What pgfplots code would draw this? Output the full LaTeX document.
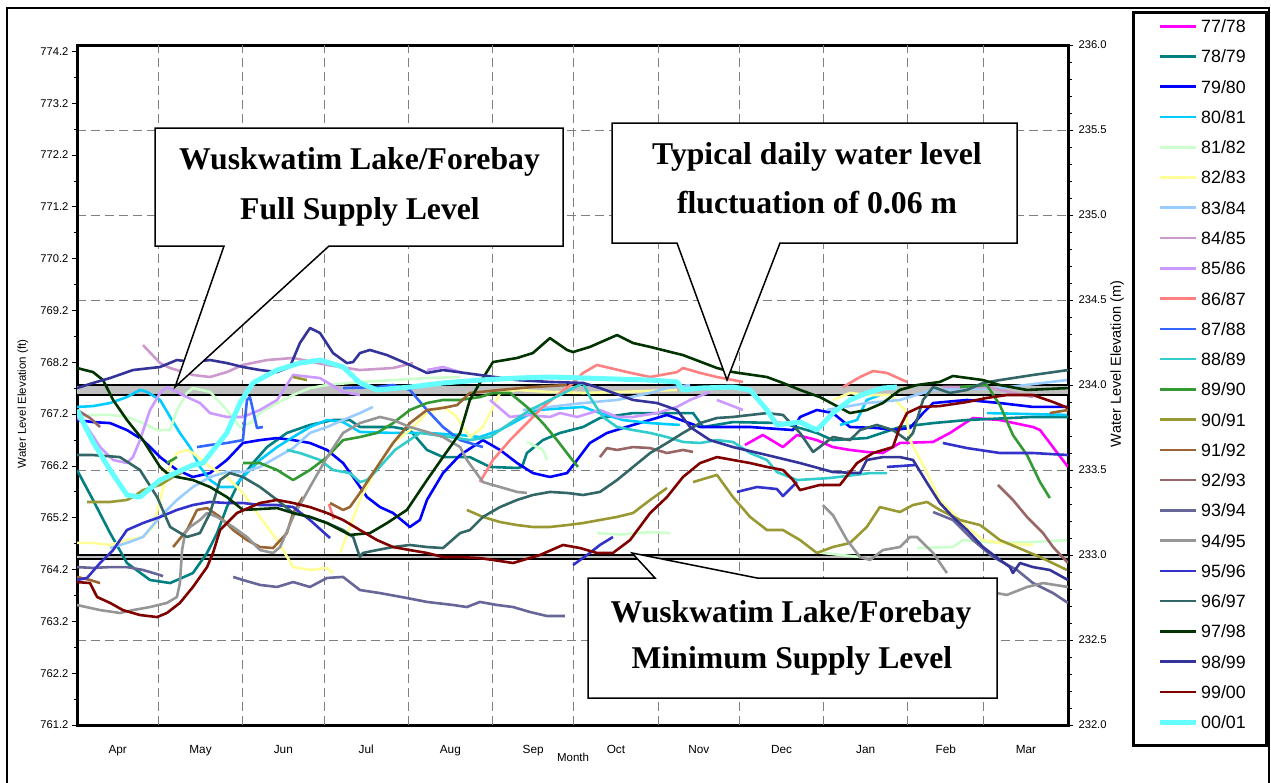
\documentclass[border=0pt]{standalone}
\usepackage{fontspec}
\setmainfont{Liberation Sans}
\newfontfamily\calloutfont{Liberation Serif}
\usepackage{pgfplots}
\pgfplotsset{compat=1.18}

\definecolor{c7778}{HTML}{FF00FF}
\definecolor{c7879}{HTML}{008080}
\definecolor{c7980}{HTML}{0000FF}
\definecolor{c8081}{HTML}{00CCFF}
\definecolor{c8182}{HTML}{CCFFCC}
\definecolor{c8283}{HTML}{FFFF99}
\definecolor{c8384}{HTML}{99CCFF}
\definecolor{c8485}{HTML}{CC99CC}
\definecolor{c8586}{HTML}{CC99FF}
\definecolor{c8687}{HTML}{FF8080}
\definecolor{c8788}{HTML}{3366FF}
\definecolor{c8889}{HTML}{33CCCC}
\definecolor{c8990}{HTML}{339933}
\definecolor{c9091}{HTML}{999933}
\definecolor{c9192}{HTML}{996633}
\definecolor{c9293}{HTML}{996666}
\definecolor{c9394}{HTML}{666699}
\definecolor{c9495}{HTML}{969696}
\definecolor{c9596}{HTML}{3333CC}
\definecolor{c9697}{HTML}{336666}
\definecolor{c9798}{HTML}{003300}
\definecolor{c9899}{HTML}{333399}
\definecolor{c9900}{HTML}{800000}
\definecolor{c0001}{HTML}{66FFFF}
\definecolor{bandgray}{HTML}{C0C0C0}
\definecolor{gridgray}{HTML}{808080}

\pgfplotsset{
  yr/.style={line width=2.6pt, line join=round, no marks},
}

\begin{document}
\begin{tikzpicture}
\path[use as bounding box] (0,0) rectangle (1271pt,-782pt);

% left axis in feet
\begin{axis}[
  at={(77pt,-725pt)}, anchor=south west,
  scale only axis, width=991pt, height=680pt,
  xmin=0, xmax=365, ymin=761.2, ymax=774.3234,
  hide x axis,
  axis y line*=left,
  axis line style={line width=3pt},
  ytick={761.2,762.2,763.2,764.2,765.2,766.2,767.2,768.2,769.2,770.2,771.2,772.2,773.2,774.2},
  minor y tick num=1,
  tick align=outside,
  major tick length=5pt, minor tick length=3.5pt,
  tick style={black, line width=0.8pt},
  yticklabel style={font=\fontsize{11.2}{11.2}\selectfont,
    /pgf/number format/fixed, /pgf/number format/fixed zerofill,
    /pgf/number format/precision=1, /pgf/number format/assume math mode=true},
]
\end{axis}

% main axis in metres
\begin{axis}[
  at={(77pt,-725pt)}, anchor=south west,
  scale only axis, width=991pt, height=680pt,
  xmin=0, xmax=365, ymin=232, ymax=236,
  axis line style={line width=3pt},
  xtick={15,45.5,76,106.5,137.5,168,198.5,229,259.5,290.5,320,349.5},
  xticklabels={Apr,May,Jun,Jul,Aug,Sep,Oct,Nov,Dec,Jan,Feb,Mar},
  xtick style={draw=none},
  extra x ticks={30,61,91,122,153,183,214,244,275,306,334},
  extra x tick labels={},
  extra x tick style={grid=major},
  xticklabel style={font=\fontsize{11.8}{11.8}\selectfont, anchor=base, yshift=-23pt},
  ytick={232,232.5,...,236},
  minor y tick num=4,
  ytick pos=right,
  yticklabel pos=right,
  ymajorgrids=true,
  tick align=outside,
  major tick length=5pt, minor tick length=3.5pt,
  ytick style={black, line width=0.8pt},
  major grid style={dash pattern=on 9pt off 5pt, line width=0.9pt, gridgray},
  yticklabel style={font=\fontsize{11.2}{11.2}\selectfont, xshift=2pt,
    /pgf/number format/fixed, /pgf/number format/fixed zerofill,
    /pgf/number format/precision=1, /pgf/number format/assume math mode=true},
  unbounded coords=jump,
  legend style={at={(1.0898,1.0374)}, anchor=north west, draw=none, fill=none,
    inner sep=0pt, row sep=17.36pt, column sep=3pt,
    font=\fontsize{17.8}{17.8}\selectfont,
    nodes={inner sep=0pt, text height=12.9pt, text depth=0pt}},
  legend cell align=left,
  legend image code/.code={\draw[#1, line cap=butt] (0pt,0pt) -- (36pt,0pt);},
]

% full supply level band and minimum supply level
\addplot[draw=none, fill=bandgray, forget plot] coordinates {(0,233.94) (365,233.94) (365,234.0) (0,234.0)};
\addplot[black, line width=2pt, forget plot] coordinates {(0,234.0) (365,234.0)};
\addplot[black, line width=2pt, forget plot] coordinates {(0,233.94) (365,233.94)};
\addplot[draw=none, fill=bandgray, forget plot] coordinates {(0,232.975) (365,232.975) (365,233.0) (0,233.0)};
\addplot[black, line width=1.8pt, forget plot] coordinates {(0,233.0) (365,233.0)};
\addplot[black, line width=1.8pt, forget plot] coordinates {(0,232.975) (365,232.975)};

% 77/78
\addplot[yr, c7778] coordinates {
(246.0,233.647) (252.6,233.706) (260.0,233.635) (265.2,233.706) (272.5,233.676) (278.4,233.635)
(284.7,233.618) (290.9,233.606) (296.8,233.600) (303.1,233.659) (315.3,233.665) (321.5,233.718)
(330.0,233.806) (339.9,233.794) (352.1,233.753) (354.7,233.735) (358.3,233.659) (365,233.518)};
\addlegendentry{77/78}

% 78/79
\addplot[yr, c7879] coordinates {
(0,233.5) (5.9,233.324) (12.2,233.129) (18.4,232.953) (26.9,232.853) (34.3,232.835) (42.7,232.894)
(47.9,233.012) (51.6,233.129) (55.2,233.282) (60.0,233.441) (64.8,233.541) (70.0,233.635)
(77.3,233.718) (85.8,233.765) (94.3,233.794) (100.5,233.794) (104.2,233.753) (116.4,233.753)
(122.6,233.735) (128.9,233.618) (134.8,233.576) (144.7,233.576) (152.1,233.518) (162.1,233.512)
(163.9,233.518) (165.7,233.600) (171.6,233.676) (177.9,233.718) (186.4,233.753) (192.6,233.806)
(204.8,233.835) (217.3,233.835) (226.9,233.835) (230.6,233.753) (241.6,233.782) (260.0,233.776)
(272.5,233.718) (278.4,233.676) (290.9,233.688) (303.1,233.753) (315.3,233.776) (327.8,233.794)
(352.1,233.812) (365,233.812)};
\addlegendentry{78/79}

% 79/80
\addplot[yr, c7980] coordinates {
(0,233.794) (5.9,233.782) (12.2,233.776) (18.4,233.735) (24.3,233.676) (30.6,233.576) (36.8,233.5)
(42.7,233.459) (49.0,233.482) (55.2,233.559) (61.1,233.659) (67.4,233.676) (73.7,233.688)
(79.6,233.676) (85.8,233.659) (92.1,233.618) (98.0,233.541) (101.7,233.459) (106.8,233.341)
(111.6,233.282) (116.4,233.247) (122.6,233.165) (126.3,233.206) (128.9,233.324) (134.8,233.482)
(141.1,233.588) (149.5,233.676) (155.8,233.618) (162.1,233.541) (167.9,233.482) (174.2,233.459)
(180.5,233.482) (184.2,233.559) (188.9,233.659) (195.2,233.718) (204.8,233.765) (217.3,233.824)
(229.5,233.753) (247.9,233.753) (263.7,233.735) (266.3,233.812) (272.5,233.853) (278.4,233.835)
(284.7,233.753) (294.6,233.747) (300.5,233.735) (306.8,233.747) (311.6,233.835) (315.3,233.894)
(327.8,233.912) (339.9,233.894) (352.1,233.871) (365,233.871)};
\addlegendentry{79/80}

% 80/81
\addplot[yr, c8081] coordinates {
(0,233.871) (5.9,233.876) (12.2,233.894) (18.4,233.929) (23.2,233.971) (25.8,233.959) (30.6,233.912)
(34.3,233.812) (37.9,233.718) (41.6,233.635) (45.3,233.518) (49.0,233.441) (52.7,233.400)
(57.5,233.400) (62.6,233.482) (67.4,233.559) (73.7,233.635) (79.6,233.694) (85.8,233.753)
(92.1,233.794) (98.0,233.782) (104.2,233.724) (116.4,233.718) (128.9,233.718) (141.1,233.706)
(148.4,233.694) (155.8,233.735) (169.4,233.853) (186.4,233.871) (192.6,233.835) (201.1,233.794)
(211.1,233.776) (222.0,233.765) (230,nan)
(281.0,233.765) (287.3,233.794) (290.9,233.912) (295.7,233.941) (300,nan)
(335.1,233.835) (364.6,233.824)};
\addlegendentry{80/81}

% 81/82
\addplot[yr, c8182] coordinates {
(0,233.812) (5.9,233.824) (12.2,233.824) (18.4,233.812) (24.3,233.776) (29.5,233.735) (34.3,233.735)
(36.8,233.853) (40.5,233.953) (42.7,233.982) (49.0,233.959) (55.2,233.853) (60.0,233.753)
(63.7,233.776) (67.4,233.835) (73.7,233.894) (79.6,233.941) (85.8,233.982) (92.1,234.000)
(104.2,234.018) (116.4,234.029) (128.9,234.041) (141.1,234.047) (150,nan)
(165.7,233.665) (171.6,233.618) (173.1,233.559) (180,nan)
(191.5,233.129) (200,233.12) (211.1,233.135) (218.4,233.129) (250,nan)
(274.7,233.012) (288.4,232.988) (300,nan)
(309.4,233.041) (322.6,233.047) (326.3,233.088) (339.9,233.071) (352.1,233.076) (364.6,233.088)};
\addlegendentry{81/82}

% 82/83
\addplot[yr, c8283] coordinates {
(0,233.071) (5.9,233.071) (12.2,233.059) (18.4,233.088) (24.3,233.106) (28.0,233.165) (30.6,233.324)
(33.1,233.482) (36.8,233.600) (40.5,233.618) (42.7,233.600) (49.0,233.518) (55.2,233.459)
(61.1,233.365) (67.4,233.224) (73.7,233.088) (79.6,232.929) (85.8,232.912) (92.1,232.924)
(94.3,232.894) (95.5,nan)
(96.9,233.012) (100.5,233.165) (104.2,233.324) (110.5,233.518) (116.4,233.659) (122.6,233.735)
(128.9,233.835) (134.8,233.871) (139.2,233.824) (144.7,233.694) (149.5,233.753) (153.2,233.871)
(155.8,233.953) (162.1,233.971) (174.2,233.959) (186.4,233.953) (200.0,233.959) (221.0,233.971)
(250,nan)
(278.4,233.912) (284.7,233.953) (290.9,233.941) (299.4,233.941) (305.0,233.853) (306.8,233.676)
(313.1,233.482) (317.8,233.324) (327.8,233.165) (333.7,233.088) (339.9,233.071) (352.1,233.059)};
\addlegendentry{82/83}

% 83/84
\addplot[yr, c8384] coordinates {
(12.2,233.041) (18.4,233.071) (24.3,233.106) (30.6,233.224) (36.8,233.324) (42.7,233.400)
(49.0,233.459) (55.2,233.488) (61.1,233.488) (67.4,233.518) (73.7,233.576) (79.6,233.629)
(85.8,233.718) (92.1,233.753) (98.0,233.794) (104.2,233.835) (109.0,233.871) (130,nan)
(164.2,233.853) (186.4,233.894) (198.9,233.912) (211.1,233.953) (217.3,233.982) (225.8,234.000)
(250,nan)
(276.2,233.853) (290.9,233.894) (303.1,233.912) (315.3,233.971) (339.9,233.982) (364.6,234.029)};
\addlegendentry{83/84}

% 84/85
\addplot[yr, c8485] coordinates {
(24.3,234.235) (30.6,234.129) (34.3,234.100) (42.7,234.059) (49.0,234.047) (55.2,234.076)
(61.1,234.118) (70.0,234.147) (79.6,234.159) (92.1,234.118) (104.2,234.088) (116.4,234.100)
(123.8,234.129) (200,nan)
(318.9,233.988) (335.1,233.988) (352.1,233.929)};
\addlegendentry{84/85}

% 85/86
\addplot[yr, c8586] coordinates {
(0,233.812) (3.7,233.753) (8.5,233.635) (13.3,233.559) (18.4,233.541) (20.6,233.576) (23.2,233.676)
(26.9,233.853) (30.6,233.953) (33.1,233.988) (36.8,233.959) (40.5,233.929) (45.3,233.894)
(49.0,233.835) (55.2,233.812) (61.1,233.812) (67.4,233.853) (73.7,233.912) (79.6,234.059)
(89.5,234.041) (98.0,233.959) (104.2,233.941) (115,nan)
(128.9,234.088) (134.8,234.106) (141.1,234.076) (146,nan)
(152.1,233.912) (159.5,233.812) (165.7,233.824) (174.2,233.812) (177.9,233.835) (184.2,233.812)
(188.9,233.835) (192.6,233.853) (198.9,233.812) (204.8,233.812) (213.6,233.835) (221.0,233.871)
(225.8,233.912) (233.1,233.959) (234.4,nan)
(235.7,233.912) (245.3,233.853)};
\addlegendentry{85/86}

% 86/87
\addplot[yr, c8687] coordinates {
(92.8,233.30) (94.6,233.21) (120,nan)
(148.4,233.429) (153.2,233.559) (159.5,233.676) (165.7,233.776) (171.6,233.871) (177.9,233.953)
(182.7,234.012) (186.4,234.071) (191.5,234.118) (196.3,234.100) (202.6,234.076) (211.1,234.047)
(221.0,234.076) (223.2,234.100) (229.5,234.071) (235.7,234.047) (245.3,234.018) (260,nan)
(282.1,233.988) (288.4,234.047) (293.2,234.082) (298.3,234.071) (305.7,234.018)};
\addlegendentry{86/87}

% 87/88
\addplot[yr, c8788] coordinates {
(44.2,233.635) (49.0,233.647) (55.2,233.659) (61.1,233.676) (62.6,233.912) (63.7,233.929)
(64.8,233.853) (66.3,233.747) (68.5,233.753) (80,nan)
(98.0,233.982) (110.5,233.988) (116.4,234.000) (122.6,233.971) (128.9,233.853) (134.8,233.753)
(141.1,233.676) (149.5,233.635)};
\addlegendentry{87/88}

% 88/89
\addplot[yr, c8889] coordinates {
(77.3,233.618) (82.1,233.600) (89.5,233.559) (94.3,233.500) (100.5,233.482) (104.2,233.429)
(106.8,233.441) (110.5,233.500) (117.1,233.618) (126.3,233.718) (137.4,233.694) (144.7,233.676)
(152.1,233.694) (155.8,233.735) (166.8,233.853) (177.9,233.941) (186.4,234.012) (188.9,233.929)
(193.7,233.812) (198.9,233.753) (204.8,233.735) (211.1,233.718) (217.3,233.694) (223.2,233.665)
(229.5,233.659) (235.7,233.676) (241.6,233.665) (247.9,233.600) (254.1,233.559) (257.8,233.488)
(265.2,233.441) (277.4,233.453) (292.1,233.482) (298.3,233.482)};
\addlegendentry{88/89}

% 89/90
\addplot[yr, c8990] coordinates {
(33.1,233.541) (36.8,233.576) (50,nan)
(61.1,233.541) (67.4,233.541) (73.7,233.5) (79.6,233.441) (85.8,233.5) (92.1,233.576) (98.0,233.676)
(104.2,233.694) (110.5,233.718) (116.4,233.776) (122.6,233.853) (128.9,233.894) (134.8,233.912)
(141.1,233.912) (148.4,233.929) (153.2,233.953) (159.5,233.953) (165.7,233.871) (171.6,233.776)
(176.8,233.676) (181.6,233.576) (184.5,233.518) (250,nan)
(325.2,233.988) (335.1,234.000) (339.9,233.882) (344.7,233.706) (349.9,233.588) (354.7,233.429)
(358.3,233.335)};
\addlegendentry{89/90}

% 90/91
\addplot[yr, c9091] coordinates {
(3.7,233.312) (12.2,233.312) (18.4,233.324) (20.6,233.341) (24.3,233.382) (30.6,233.412)
(35.4,233.459) (39.0,233.488) (60,nan)
(79.6,234.047) (84.7,234.029) (110,nan)
(143.6,233.265) (149.5,233.224) (155.8,233.194) (162.1,233.176) (167.9,233.165) (174.2,233.165)
(180.5,233.176) (186.4,233.188) (192.6,233.206) (198.9,233.224) (204.8,233.247) (211.1,233.324)
(217.3,233.394) (222,nan)
(226.9,233.429) (235.7,233.471) (241.6,233.341) (247.9,233.224) (254.1,233.147) (260.0,233.147)
(266.3,233.088) (272.5,233.012) (278.4,233.047) (284.7,233.071) (290.9,233.165) (295.7,233.282)
(303.1,233.253) (307.9,233.294) (313.1,233.312) (317.8,233.265) (325.2,233.206) (332.6,233.176)
(335.1,233.147) (339.9,233.088) (354.7,232.988) (364.6,232.912)};
\addlegendentry{90/91}

% 91/92
\addplot[yr, c9192] coordinates {
(0,232.871) (4.8,232.853) (8.5,232.835) (20,nan)
(35.4,233.047) (40.5,233.147) (44.2,233.265) (47.9,233.276) (52.7,233.224) (57.5,233.147)
(62.6,233.088) (67.4,233.047) (72.2,233.041) (77.3,233.129) (79.6,233.247) (83.2,233.341) (88,nan)
(93.2,233.306) (98.0,233.265) (100.5,233.282) (104.2,233.365) (110.5,233.518) (116.4,233.659)
(122.6,233.776) (128.9,233.853) (134.8,233.865) (140.0,233.882) (144.7,233.953) (155.8,233.971)
(167.9,233.988) (180.5,234.000) (250,nan)
(358.3,233.835) (365,233.853)};
\addlegendentry{91/92}

% 92/93
\addplot[yr, c9293] coordinates {
(0,233.853) (4.8,233.806) (8.5,233.753) (100,nan)
(192.6,233.576) (195.2,233.629) (198.9,233.618) (204.8,233.635) (211.1,233.629) (217.3,233.600)
(223.2,233.618) (226.9,233.606) (300,nan)
(339.2,233.412) (344.7,233.324) (349.9,233.224) (355.8,233.129) (359.5,233.047) (365,232.953)};
\addlegendentry{92/93}

% 93/94
\addplot[yr, c9394] coordinates {
(0,232.929) (5.9,232.924) (12.2,232.929) (18.4,232.929) (24.3,232.912) (30.6,232.882) (31.7,232.876)
(45,nan)
(57.5,232.871) (61.1,232.853) (67.4,232.824) (73.7,232.812) (79.6,232.841) (85.8,232.812)
(92.1,232.865) (98.0,232.871) (104.2,232.794) (111.6,232.776) (121.5,232.747) (128.9,232.724)
(138.5,232.706) (143.6,232.694) (148.4,232.724) (154.7,232.706) (160.6,232.694) (166.8,232.665)
(173.1,232.641) (179.7,232.641) (250,nan)
(315.3,233.253) (322.6,233.206) (330.0,233.088) (337.4,232.988) (346.2,232.912) (352.1,232.835)
(359.5,232.776) (365,232.718)};
\addlegendentry{93/94}

% 94/95
\addplot[yr, c9495] coordinates {
(0,232.706) (8.5,232.676) (15.8,232.659) (20.6,232.676) (26.9,232.694) (33.1,232.718) (36.8,232.753)
(37.9,232.835) (38.7,233.029) (39.8,233.129) (41.6,233.165) (45.3,233.206) (47.9,233.247)
(51.6,233.224) (57.5,233.165) (62.6,233.106) (67.4,233.029) (72.2,233.012) (74.8,233.047)
(79.6,233.224) (85.8,233.400) (92.1,233.576) (98.0,233.718) (104.2,233.776) (111.6,233.812)
(116.4,233.794) (122.6,233.753) (128.9,233.724) (134.8,233.694) (141.1,233.635) (143.6,233.559)
(149.5,233.429) (155.8,233.400) (162.1,233.371) (165.7,233.365) (220,nan)
(274.7,233.294) (278.4,233.235) (283.6,233.088) (288.4,232.988) (292.1,232.971) (296.8,233.029)
(303.1,233.047) (306.8,233.106) (309.4,233.106) (315.3,233.012) (320.4,232.894) (330,nan)
(338.8,232.776) (342.5,232.765) (349.9,232.812) (355.8,232.835) (365,232.812)};
\addlegendentry{94/95}

% 95/96
\addplot[yr, c9596] coordinates {
(0,232.853) (3.7,232.865) (8.5,232.953) (13.3,233.029) (18.4,233.147) (24.3,233.188) (30.6,233.224)
(36.8,233.265) (42.7,233.294) (49.0,233.312) (55.2,233.306) (61.1,233.306) (67.4,233.294)
(73.7,233.294) (79.6,233.282) (85.8,233.206) (93.2,233.100) (140,nan)
(182.7,232.941) (188.9,233.012) (192.6,233.059) (197.4,233.106) (220,nan)
(243.1,233.371) (250.4,233.400) (257.8,233.388) (260.0,233.347) (265.2,233.429) (280,nan)
(298.3,233.518) (308.6,233.529) (313,nan)
(318.9,233.659) (327.8,233.629) (339.9,233.600) (352.1,233.600) (365,233.588)};
\addlegendentry{95/96}

% 96/97
\addplot[yr, c9697] coordinates {
(0,233.588) (5.9,233.588) (15.8,233.576) (23.2,233.5) (29.5,233.341) (34.3,233.165) (40.5,233.106)
(45.3,233.129) (49.0,233.247) (52.7,233.441) (56.3,233.482) (61.1,233.459) (67.4,233.400)
(73.7,233.324) (79.6,233.247) (85.8,233.224) (92.1,233.188) (98.0,233.147) (101.7,233.106)
(104.2,232.988) (105.3,233.012) (110.5,233.029) (116.4,233.047) (122.6,233.059) (128.9,233.047)
(134.8,233.041) (141.1,233.129) (144.7,233.147) (149.5,233.224) (155.8,233.282) (162.1,233.324)
(167.9,233.353) (174.2,233.371) (180.5,233.365) (186.4,233.353) (192.6,233.371) (198.9,233.441)
(204.8,233.518) (211.1,233.600) (217.3,233.659) (223.2,233.718) (229.5,233.776) (235.7,233.806)
(241.6,233.812) (254.1,233.835) (260.0,233.824) (266.3,233.718) (271.1,233.606) (278.4,233.694)
(284.7,233.676) (288.4,233.735) (294.6,233.765) (300.5,233.735) (305.7,233.676) (307.9,233.718)
(311.6,233.912) (315.3,233.988) (321.5,233.953) (327.8,233.971) (333.7,234.012) (339.9,234.029)
(352.1,234.059) (365,234.088)};
\addlegendentry{96/97}

% 97/98
\addplot[yr, c9798] coordinates {
(0,234.100) (5.9,234.076) (9.6,234.029) (13.3,233.912) (18.4,233.794) (24.3,233.676) (30.6,233.518)
(33.1,233.482) (36.8,233.459) (42.7,233.441) (49.0,233.400) (55.2,233.341) (61.1,233.265)
(73.7,233.276) (79.6,233.247) (85.8,233.224) (92.1,233.188) (100.5,233.118) (107.9,233.129)
(114.2,233.188) (121.5,233.265) (128.9,233.441) (134.8,233.576) (141.1,233.718) (144.7,233.912)
(148.4,234.012) (153.2,234.135) (162.1,234.159) (167.9,234.188) (174.2,234.276) (180.5,234.206)
(182.7,234.194) (188.9,234.224) (198.9,234.294) (204.8,234.247) (211.1,234.224) (223.2,234.176)
(235.7,234.100) (241.6,234.076) (254.1,234.047) (260.0,234.012) (266.3,233.971) (273.6,233.929)
(284.7,233.835) (290.9,233.853) (296.8,233.894) (303.1,233.971) (309.4,234.000) (317.8,234.018)
(322.6,234.053) (333.7,234.029) (339.9,234.000) (349.9,233.971) (365,233.982)};
\addlegendentry{97/98}

% 98/99
\addplot[yr, c9899] coordinates {
(0,233.982) (5.9,234.012) (12.2,234.041) (20.6,234.088) (30.6,234.106) (36.8,234.147) (42.7,234.135)
(49.0,234.147) (55.2,234.129) (61.1,234.106) (67.4,234.088) (73.7,234.076) (78.4,234.106)
(82.1,234.247) (85.8,234.335) (89.5,234.306) (94.3,234.188) (99.4,234.129) (101.7,234.135)
(104.2,234.188) (107.9,234.206) (114.2,234.176) (122.6,234.118) (128.9,234.071) (134.8,234.088)
(148.4,234.059) (162.1,234.029) (174.2,234.018) (186.4,234.012) (192.6,233.982) (204.8,233.912)
(213.6,233.894) (221.0,233.853) (225.8,233.753) (233.1,233.676) (241.6,233.635) (254.1,233.588)
(266.3,233.541) (278.4,233.488) (288.4,233.482) (290.9,233.559) (296.8,233.576) (303.1,233.576)
(307.9,233.559) (313.1,233.424) (317.8,233.306) (322.6,233.224) (327.8,233.147) (333.7,233.047)
(339.9,232.971) (343.6,232.929) (344.7,232.894) (347.3,232.953) (352.1,232.929) (358.3,232.912)
(365,232.853)};
\addlegendentry{98/99}

% 99/00
\addplot[yr, c9900] coordinates {
(0,232.841) (4.8,232.835) (7.4,232.753) (12.2,232.718) (16.9,232.676) (23.2,232.647) (29.5,232.635)
(33.1,232.659) (37.9,232.718) (42.7,232.812) (47.9,232.929) (50.1,233.012) (52.7,233.147)
(58.9,233.247) (67.4,233.306) (73.7,233.324) (79.6,233.306) (85.8,233.282) (92.1,233.247)
(98.0,233.206) (104.2,233.147) (110.5,233.088) (116.4,233.047) (122.6,233.029) (128.9,233.012)
(134.8,232.988) (141.1,232.988) (148.4,232.982) (160.6,232.953) (170.5,233.000) (179.0,233.059)
(185.3,233.041) (191.5,233.012) (197.4,233.012) (203.7,233.088) (211.1,233.247) (217.3,233.341)
(223.2,233.459) (229.5,233.541) (235.7,233.576) (241.6,233.559) (247.9,233.541) (254.1,233.518)
(260.0,233.5) (263.7,233.441) (266.3,233.382) (273.6,233.412) (281.0,233.412) (287.3,233.541)
(293.2,233.600) (300.5,233.635) (303.1,233.753) (305.7,233.835) (310.5,233.871) (317.8,233.876)
(327.8,233.900) (335.1,233.924) (342.5,233.941) (352.1,233.941) (359.5,233.900) (365,233.865)};
\addlegendentry{99/00}

% 00/01
\addplot[c0001, line width=5pt, line join=round, no marks] coordinates {
(0,233.853) (5.9,233.665) (12.2,233.5) (18.4,233.353) (23.2,233.341) (30.6,233.441) (42.7,233.529)
(46.4,233.541) (55.2,233.718) (60.0,233.894) (64.8,234.012) (73.7,234.088) (82.1,234.129)
(89.5,234.147) (98.0,234.106) (104.2,234.012) (110.5,233.971) (122.6,233.988) (134.8,234.012)
(148.4,234.029) (162.1,234.041) (174.2,234.047) (186.4,234.041) (211.1,234.029) (221.0,234.018)
(223.2,233.971) (229.5,233.982) (241.6,233.988) (247.9,233.971) (254.1,233.853) (257.8,233.765)
(266.3,233.782) (272.5,233.735) (278.4,233.835) (284.7,233.912) (290.9,233.953) (296.8,233.982)
(302.0,233.988)};
\addlegendentry{00/01}

\end{axis}

\begin{scope}[x=1pt, y=-1pt]
% outer frame and legend frame
\draw[line width=1.3pt] (7,8) rectangle (1269,800);
\draw[line width=3pt] (1133,12) rectangle (1266,745);

% axis titles
\node[rotate=90, font=\fontsize{11.5}{11.5}\selectfont] at (23,404) {Water Level Elevation (ft)};
\node[rotate=90, font=\fontsize{14.5}{14.5}\selectfont] at (1117,364) {Water Level Elevation (m)};
\node[font=\fontsize{11.5}{11.5}\selectfont] at (573,757) {Month};

% callouts
\draw[fill=white, line width=1.5pt, line join=miter]
  (155,128) -- (563,128) -- (563,246) -- (329,246) -- (175,387) -- (224,246) -- (155,246) -- cycle;
\node[anchor=base, font=\calloutfont\bfseries\fontsize{31.7}{36}\selectfont] at (359.5,169) {Wuskwatim Lake/Forebay};
\node[anchor=base, font=\calloutfont\bfseries\fontsize{31.7}{36}\selectfont] at (360,219.5) {Full Supply Level};

\draw[fill=white, line width=1.5pt, line join=miter]
  (612,123) -- (1017,123) -- (1017,243) -- (780,243) -- (727,380) -- (677,243) -- (612,243) -- cycle;
\node[anchor=base, font=\calloutfont\bfseries\fontsize{31.7}{36}\selectfont] at (817,164) {Typical daily water level};
\node[anchor=base, font=\calloutfont\bfseries\fontsize{31.7}{36}\selectfont] at (817,213) {fluctuation of 0.06 m};

\draw[fill=white, line width=1.5pt, line join=miter]
  (588,578) -- (655,578) -- (632,553) -- (757,578) -- (997,578) -- (997,698) -- (588,698) -- cycle;
\node[anchor=base, font=\calloutfont\bfseries\fontsize{31.7}{36}\selectfont] at (791,622) {Wuskwatim Lake/Forebay};
\node[anchor=base, font=\calloutfont\bfseries\fontsize{31.7}{36}\selectfont] at (792,668) {Minimum Supply Level};
\end{scope}
\end{tikzpicture}
\end{document}
